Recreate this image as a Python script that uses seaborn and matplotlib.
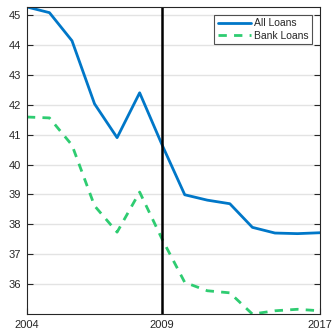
import matplotlib
matplotlib.use('Agg')
import matplotlib.pyplot as plt
import pandas as pd
import seaborn as sns

# values, one per year slot
period = list(range(14))
all_loans = [45.27, 45.08, 44.14, 42.03, 40.90, 42.40, 40.65, 38.99, 38.81, 38.69, 37.90, 37.71, 37.69, 37.72]
bank_loans = [41.59, 41.56, 40.65, 38.62, 37.74, 39.08, 37.50, 36.06, 35.78, 35.71, 35.00, 35.11, 35.16, 35.11]
tick_pos = [0, 6, 13]
tick_labels = ['2004', '2009', '2017']
y_ticks = [36, 37, 38, 39, 40, 41, 42, 43, 44, 45]

df = pd.DataFrame({'period': period, 'All Loans': all_loans, 'Bank Loans': bank_loans})

sns.set_style('white')
plt.rcParams['font.family'] = ['Liberation Sans', 'DejaVu Sans']

fig = plt.figure(figsize=(3.32, 3.32), dpi=100)
ax = fig.add_axes([0.081, 0.054, 0.883, 0.925])

for yv in y_ticks:
    ax.axhline(yv, color='#e3e3e3', lw=1, zorder=0)

sns.lineplot(x='period', y='All Loans', data=df, ax=ax, color='#0077C8', lw=2, label='All Loans')
sns.lineplot(x='period', y='Bank Loans', data=df, ax=ax, color='#2ECC71', lw=2,
             label='Bank Loans', dashes=False)
ax.lines[-1].set_dashes((3, 2.6))
ax.axvline(6, color='black', lw=1.8)

ax.set_xlim(0, 13)
ax.set_ylim(35, 45.27)
ax.set_xticks(tick_pos)
ax.set_xticklabels(tick_labels)
ax.set_yticks(y_ticks)
ax.set_xlabel('')
ax.set_ylabel('')
ax.tick_params(direction='in', length=4, width=0.8, labelsize=8, colors='#262626',
               right=True, left=True, bottom=True, pad=4)
for s in ax.spines.values():
    s.set_color('#262626')
    s.set_linewidth(0.8)

leg = ax.legend(loc='upper right', fontsize=7.5, frameon=True, fancybox=False,
                edgecolor='#262626', handlelength=3.2, handletextpad=0.3,
                borderpad=0.3, labelspacing=0.25, borderaxespad=0.8)
leg.get_frame().set_linewidth(0.8)

fig.savefig('out.png', dpi=100)
